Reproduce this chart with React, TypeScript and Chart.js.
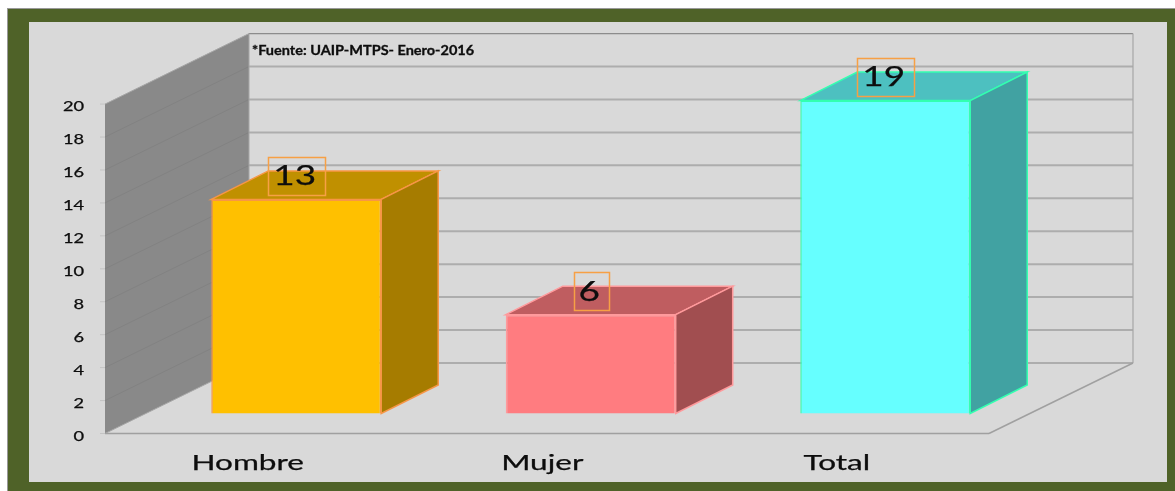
import React, { useEffect, useRef } from "react";
import { Chart, registerables } from "chart.js";

Chart.register(...registerables);

const categories = ["Hombre", "Mujer", "Total"];
const values = [13, 6, 19];
const frontColors = ["#ffc000", "#ff7c80", "#66ffff"];
const topColors = ["#c09000", "#bf5d60", "#4dc0c0"];
const sideColors = ["#a67c00", "#a14e50", "#41a2a2"];
const edgeColors = ["#f79646", "#ff9a9c", "#33ffb0"];
const sourceNote = "*Fuente: UAIP-MTPS- Enero-2016";

const UNIT = 16.47;
const AREA_TOP = 33;
const AREA_BOTTOM = 433.5;
const WALL_DX = 144;
const WALL_DY = 70.5;
const FRONT_LEFT = 105;
const FLOOR_RIGHT = 989;
const BAR_FLOOR_GAP = 20;
const BAR_DX = 57;
const BAR_DY = 28.5;
const FONT = "Lato, 'Noto Sans', sans-serif";

function stretched(ctx: any, text: string, x: number, y: number, sx: number, font: string, align: string, color = "#0d0d0d", weight = 0.25) {
  ctx.save();
  ctx.translate(x, y);
  ctx.scale(sx, 1);
  ctx.font = font;
  ctx.textAlign = align;
  ctx.textBaseline = "middle";
  ctx.fillStyle = color;
  ctx.fillText(text, 0, 0);
  if (weight > 0) {
    ctx.strokeStyle = color;
    ctx.lineWidth = weight;
    ctx.strokeText(text, 0, 0);
  }
  ctx.restore();
}

function line(ctx: any, x1: number, y1: number, x2: number, y2: number, color: string, w = 1) {
  ctx.strokeStyle = color;
  ctx.lineWidth = w;
  ctx.beginPath();
  ctx.moveTo(x1, y1);
  ctx.lineTo(x2, y2);
  ctx.stroke();
}

function poly(ctx: any, pts: number[][], fill: string, stroke: string) {
  ctx.fillStyle = fill;
  ctx.strokeStyle = stroke;
  ctx.lineWidth = 1.5;
  ctx.beginPath();
  pts.forEach((p, i) => (i ? ctx.lineTo(p[0], p[1]) : ctx.moveTo(p[0], p[1])));
  ctx.closePath();
  ctx.fill();
  ctx.stroke();
}

const scene3d = {
  id: "scene3d",
  beforeDatasetsDraw(chart: any) {
    const { ctx, scales } = chart;
    const axis = scales.yAxis;
    const ticks = axis.ticks.filter((t: any) => t.value <= 20);
    const topFront = axis.getPixelForValue(20);
    const zero = axis.getPixelForValue(0);
    const backLeft = FRONT_LEFT + WALL_DX;
    const backRight = FLOOR_RIGHT + WALL_DX;
    ctx.save();
    // left wall
    ctx.fillStyle = "#898989";
    ctx.beginPath();
    ctx.moveTo(FRONT_LEFT, zero);
    ctx.lineTo(FRONT_LEFT, topFront);
    ctx.lineTo(backLeft, topFront - WALL_DY);
    ctx.lineTo(backLeft, zero - WALL_DY);
    ctx.closePath();
    ctx.fill();
    // grid lines
    ticks.forEach((t: any) => {
      const y = axis.getPixelForValue(t.value);
      line(ctx, 100, y, FRONT_LEFT, y, "#c4c4c4");
      if (t.value > 0 && t.value < 20) line(ctx, FRONT_LEFT, y, backLeft, y - WALL_DY, "#828282");
      line(ctx, backLeft, y - WALL_DY, backRight, y - WALL_DY, t.value === 20 ? "#8c8c8c" : "#adadad", t.value === 20 ? 1.2 : 2);
    });
    line(ctx, FRONT_LEFT, topFront, backLeft, topFront - WALL_DY, "#a6a6a6");
    line(ctx, backLeft, topFront - WALL_DY, backLeft, zero - WALL_DY, "#a6a6a6");
    line(ctx, backRight, topFront - WALL_DY, backRight, zero - WALL_DY, "#a6a6a6", 1.2);
    // floor
    line(ctx, FRONT_LEFT, zero, backLeft, zero - WALL_DY, "#a6a6a6");
    line(ctx, FRONT_LEFT, zero, FLOOR_RIGHT, zero, "#a0a0a0", 1.5);
    line(ctx, FLOOR_RIGHT, zero, backRight, zero - WALL_DY, "#a0a0a0", 1.5);
    // bar depth faces
    chart.getDatasetMeta(0).data.forEach((bar: any, i: number) => {
      const l = bar.x - bar.width / 2;
      const r = bar.x + bar.width / 2;
      poly(ctx, [[l, bar.y], [l + BAR_DX, bar.y - BAR_DY], [r + BAR_DX, bar.y - BAR_DY], [r, bar.y]], topColors[i], edgeColors[i]);
      poly(ctx, [[r, bar.y], [r + BAR_DX, bar.y - BAR_DY], [r + BAR_DX, bar.base - BAR_DY], [r, bar.base]], sideColors[i], edgeColors[i]);
    });
    ctx.restore();
  },
  afterDatasetsDraw(chart: any) {
    const { ctx, scales } = chart;
    const axis = scales.yAxis;
    ctx.save();
    // value axis labels
    axis.ticks.filter((t: any) => t.value <= 20).forEach((t: any) => {
      stretched(ctx, String(t.value), 84, axis.getPixelForValue(t.value) + 3, 1.4, `13px ${FONT}`, "right");
    });
    // category labels
    chart.getDatasetMeta(0).data.forEach((bar: any, i: number) => {
      stretched(ctx, categories[i], bar.x - 48.5, 463, 1.5, `21px ${FONT}`, "center");
      // data label box
      const text = String(values[i]);
      const boxW = i === 1 ? 35 : 57;
      const boxX = bar.x + 0.5 - boxW / 2;
      ctx.strokeStyle = "#f7a045";
      ctx.lineWidth = 1.5;
      ctx.strokeRect(Math.round(boxX) + 0.5, Math.round(bar.y - 42.5) + 0.5, boxW, 38);
      stretched(ctx, text, bar.x - 1.5, bar.y - 22.5, 1.42, `26px ${FONT}`, "center");
    });
    stretched(ctx, sourceNote, 252, 51, 1.115, `bold 13px ${FONT}`, "left", "#0d0d0d", 0.3);
    ctx.restore();
  },
};

export default function App() {
  const ref = useRef<HTMLCanvasElement | null>(null);
  useEffect(() => {
    const chart = new Chart(ref.current as HTMLCanvasElement, {
      type: "bar",
      data: {
        labels: categories,
        datasets: [
          {
            data: values,
            backgroundColor: frontColors,
            borderColor: edgeColors,
            borderWidth: 1.5,
            barPercentage: 0.577,
            categoryPercentage: 1,
          },
        ],
      },
      options: {
        responsive: false,
        animation: false,
        layout: { padding: { left: 149, right: 142.5, top: AREA_TOP, bottom: 491 - AREA_BOTTOM } },
        plugins: { legend: { display: false }, tooltip: { enabled: false } },
        scales: {
          x: { display: false, offset: true, grid: { display: false } },
          y: {
            display: false,
            min: -BAR_FLOOR_GAP / UNIT,
            max: (AREA_BOTTOM - BAR_FLOOR_GAP - AREA_TOP) / UNIT,
          },
          yAxis: {
            display: false,
            position: "left",
            min: 0,
            max: (AREA_BOTTOM - AREA_TOP) / UNIT,
            ticks: { stepSize: 2 },
          },
        },
      },
      plugins: [scene3d],
    } as any);
    return () => chart.destroy();
  }, []);

  return (
    <div style={{ position: "fixed", inset: 0, background: "#fff", overflow: "hidden" }}>
      <div style={{ position: "absolute", left: 7, top: 8, right: 0, bottom: 0, background: "#4f6228", borderLeft: "1px solid #999", borderTop: "1px solid #999" }} />
      <div style={{ position: "absolute", left: 29, top: 22, width: 1138, height: 460, background: "#d9d9d9" }} />
      <canvas ref={ref} width={1175} height={491} style={{ position: "absolute", left: 0, top: 0, display: "block", filter: "blur(0.35px)" }} />
    </div>
  );
}
